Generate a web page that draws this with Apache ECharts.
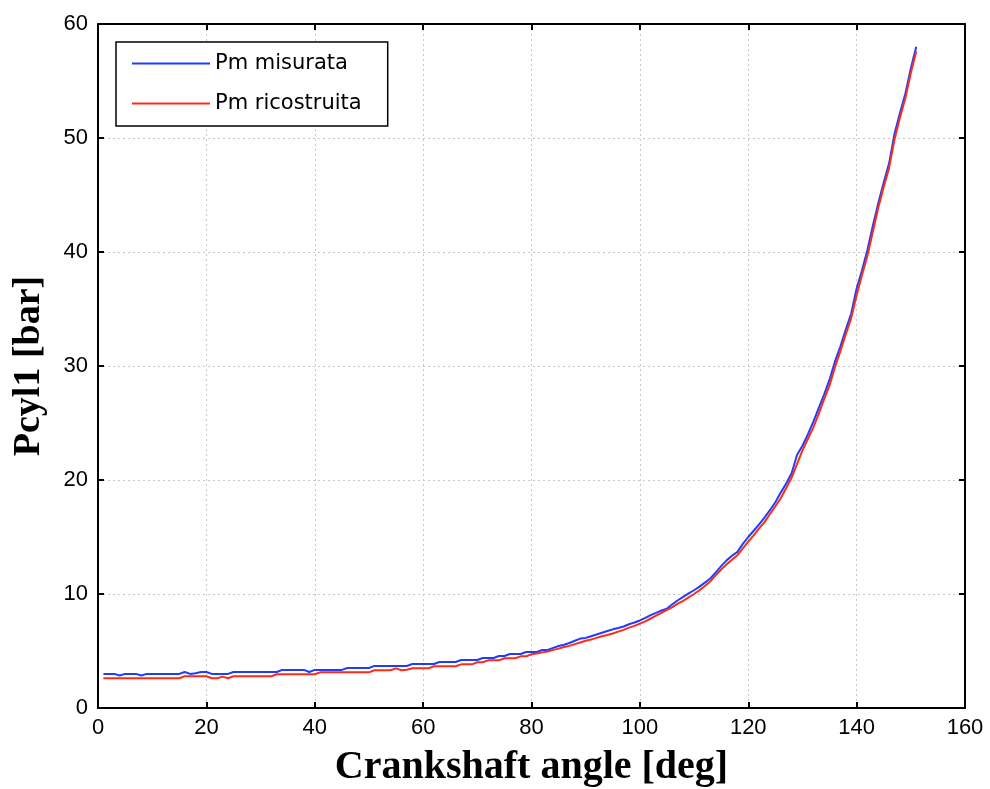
<!DOCTYPE html>
<html>
<head>
<meta charset="utf-8">
<script src="https://cdn.jsdelivr.net/npm/echarts@6/dist/echarts.min.js"></script>
<style>
html,body{margin:0;padding:0;background:#fff;}
#chart{width:990px;height:789px;}
</style>
</head>
<body>
<div id="chart"></div>
<script>
// Crankshaft angles [deg]
const angles = [1,2,3,4,5,6,7,8,9,10,11,12,13,14,15,16,17,18,19,20,21,22,23,24,25,26,27,28,29,30,
31,32,33,34,35,36,37,38,39,40,41,42,43,44,45,46,47,48,49,50,51,52,53,54,55,56,57,58,59,60,
61,62,63,64,65,66,67,68,69,70,71,72,73,74,75,76,77,78,79,80,81,82,83,84,85,86,87,88,89,90,
91,92,93,94,95,96,97,98,99,100,101,102,103,104,105,106,107,108,109,110,111,112,113,114,115,116,117,118,119,120,
121,122,123,124,125,126,127,128,129,130,131,132,133,134,135,136,137,138,139,140,141,142,143,144,145,146,147,148,149,150,151];

// Pm misurata [bar]
const pmMisurata = [2.99,2.99,2.99,2.85,2.99,2.99,2.99,2.85,2.99,2.99,2.99,2.99,2.99,2.99,2.99,3.16,2.99,3.05,3.16,3.16,
2.99,2.99,2.99,2.99,3.16,3.16,3.16,3.16,3.16,3.16,3.16,3.16,3.16,3.34,3.34,3.34,3.34,3.34,3.16,3.34,
3.34,3.34,3.34,3.34,3.34,3.51,3.51,3.51,3.51,3.51,3.69,3.69,3.69,3.69,3.69,3.69,3.69,3.86,3.86,3.86,
3.86,3.86,4.04,4.04,4.04,4.04,4.21,4.21,4.21,4.21,4.39,4.39,4.39,4.56,4.56,4.74,4.74,4.74,4.91,4.91,
4.91,5.09,5.09,5.27,5.44,5.55,5.70,5.90,6.09,6.15,6.30,6.45,6.60,6.75,6.90,7.02,7.15,7.35,7.50,7.68,
7.90,8.15,8.35,8.55,8.72,9.10,9.45,9.75,10.05,10.33,10.65,11.00,11.36,11.90,12.45,12.95,13.35,13.70,14.40,15.00,
15.55,16.10,16.70,17.35,18.05,18.90,19.70,20.60,22.20,23.00,24.00,25.10,26.30,27.50,28.80,30.40,31.70,33.20,34.60,36.80,
38.40,40.20,42.30,44.30,46.10,47.80,50.40,52.20,53.90,56.10,58.00];

// Pm ricostruita [bar]
const pmRicostruita = [2.61,2.61,2.61,2.61,2.61,2.61,2.61,2.61,2.61,2.61,2.61,2.61,2.61,2.61,2.61,2.78,2.78,2.78,2.78,2.78,
2.61,2.61,2.75,2.61,2.78,2.78,2.78,2.78,2.78,2.78,2.78,2.78,2.96,2.96,2.96,2.96,2.96,2.96,2.96,2.96,
3.13,3.13,3.13,3.13,3.13,3.13,3.13,3.13,3.13,3.13,3.31,3.31,3.31,3.31,3.48,3.31,3.35,3.48,3.48,3.48,
3.48,3.66,3.66,3.66,3.66,3.66,3.83,3.83,3.83,4.01,4.01,4.18,4.18,4.18,4.36,4.36,4.36,4.53,4.53,4.71,
4.78,4.88,4.95,5.10,5.21,5.35,5.45,5.60,5.75,5.90,6.00,6.15,6.30,6.40,6.53,6.70,6.85,7.05,7.20,7.40,
7.60,7.85,8.10,8.35,8.60,8.85,9.15,9.40,9.70,10.00,10.33,10.70,11.10,11.65,12.15,12.60,13.00,13.40,14.00,14.60,
15.15,15.75,16.30,17.00,17.70,18.40,19.30,20.20,21.40,22.60,23.60,24.60,25.80,27.10,28.30,29.90,31.30,32.80,34.20,36.20,
38.00,39.70,41.80,43.90,45.70,47.40,49.90,51.80,53.50,55.70,57.60];

const seriesNames = ['Pm misurata', 'Pm ricostruita'];
const xTitle = 'Crankshaft angle [deg]';
const yTitle = 'Pcyl1 [bar]';

const toPairs = (xs, ys) => xs.map((x, i) => [x, ys[i]]);

const chart = echarts.init(document.getElementById('chart'), null, {renderer: 'canvas'});

const tickFont = () => ({fontFamily: 'Liberation Sans', fontSize: 22, color: '#000'});
const boxLine = () => ({show: true, onZero: false, lineStyle: {color: '#000', width: 2}});
const inTick = () => ({show: true, inside: true, length: 6, lineStyle: {color: '#000', width: 2}});
const gridLine = () => ({show: true, lineStyle: {color: '#c8c8c8', type: [2, 3], width: 1}});

chart.setOption({
  animation: false,
  backgroundColor: '#fff',
  grid: {left: 98, right: 25, top: 24, bottom: 81, containLabel: false, outerBoundsMode: 'none'},
  legend: {
    orient: 'vertical',
    left: 116, top: 42,
    backgroundColor: '#fff',
    borderColor: '#000', borderWidth: 1.5, borderRadius: 0,
    padding: [11, 26, 12, 16],
    itemGap: 19,
    itemWidth: 78, itemHeight: 2,
    icon: 'rect',
    textStyle: {fontFamily: 'DejaVu Sans', fontSize: 21, color: '#000'},
    data: seriesNames
  },
  xAxis: [{
    type: 'value', min: 0, max: 160, interval: 20, position: 'bottom',
    name: xTitle, nameLocation: 'middle', nameGap: 40,
    nameTextStyle: {fontFamily: 'Liberation Serif', fontWeight: 'bold', fontSize: 40, color: '#000'},
    axisLine: boxLine(), axisTick: inTick(),
    axisLabel: Object.assign({margin: 9}, tickFont()),
    splitLine: gridLine()
  }, {
    type: 'value', min: 0, max: 160, interval: 20, position: 'top',
    axisLine: boxLine(), axisTick: inTick(), axisLabel: {show: false}, splitLine: {show: false}
  }],
  yAxis: [{
    type: 'value', min: 0, max: 60, interval: 10, position: 'left',
    name: yTitle, nameLocation: 'middle', nameGap: 50,
    nameTextStyle: {fontFamily: 'Liberation Serif', fontWeight: 'bold', fontSize: 38, color: '#000'},
    axisLine: boxLine(), axisTick: inTick(),
    axisLabel: Object.assign({margin: 10}, tickFont()),
    splitLine: gridLine()
  }, {
    type: 'value', min: 0, max: 60, interval: 10, position: 'right',
    axisLine: boxLine(), axisTick: inTick(), axisLabel: {show: false}, splitLine: {show: false}
  }],
  series: [{
    name: seriesNames[0], type: 'line', data: toPairs(angles, pmMisurata),
    showSymbol: false, symbol: 'none', color: '#1f3dff',
    lineStyle: {color: '#1f3dff', width: 2}
  }, {
    name: seriesNames[1], type: 'line', data: toPairs(angles, pmRicostruita),
    showSymbol: false, symbol: 'none', color: '#ff2a1a',
    lineStyle: {color: '#ff2a1a', width: 2}
  }]
});
</script>
</body>
</html>
